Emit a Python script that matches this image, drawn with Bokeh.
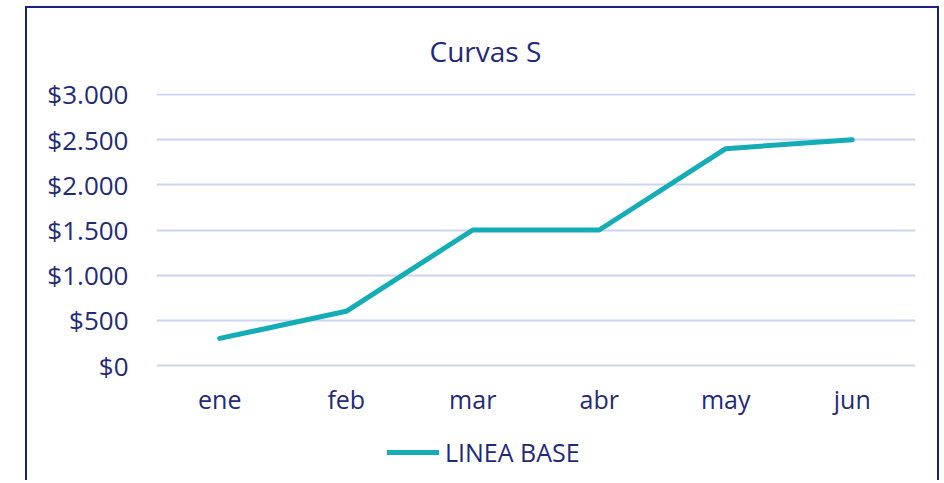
from bokeh.plotting import figure
from bokeh.models import Legend, LegendItem, FixedTicker
from bokeh.embed import file_html
from bokeh.resources import INLINE

# ---- data ----
months = ["ene", "feb", "mar", "abr", "may", "jun"]
linea_base = [300, 600, 1500, 1500, 2400, 2500]
y_ticks = [0, 500, 1000, 1500, 2000, 2500, 3000]
y_tick_labels = ["$0", "$500", "$1.000", "$1.500", "$2.000", "$2.500", "$3.000"]
title_text = "Curvas S"
series_name = "LINEA BASE"

TEXT = "#1f2a78"
TEAL = "#14adb5"
GRID = "#cdd3f2"
FRAME = "#1a237e"
FONT = "Open Sans"

# figure origin on the page is at (27, 8) because of the css margin + border
OX, OY = 27, 8
W, H = 914, 474
FL, FR, FT = 156, 915, 93   # plot-area edges in page pixels (frame runs to the bottom)

# the frame reaches the bottom of the figure; the x axis is pinned at y = 0
p = figure(
    width=W, height=H,
    x_range=months, y_range=(-1295, 3011),
    output_backend="svg", toolbar_location=None,
    min_border_left=FL - OX, min_border_right=OX + W - FR,
    min_border_top=FT - OY, min_border_bottom=0,
)
p.styles = {
    "margin-left": "25px", "margin-top": "6px",
    "border-top": f"2px solid {FRAME}", "border-left": f"2px solid {FRAME}",
    "border-right": f"2px solid {FRAME}",
}
p.outline_line_color = None
p.background_fill_color = "white"
p.border_fill_color = "white"

p.title.text = title_text
p.title.align = "left"
p.title.offset = 273
p.title.vertical_align = "top"
p.title.standoff = 44
p.title.text_font = FONT
p.title.text_font_size = "28px"
p.title.text_font_style = "normal"
p.title.text_color = TEXT

p.xgrid.grid_line_color = None
p.ygrid.grid_line_color = GRID
p.ygrid.grid_line_width = 2

p.yaxis.ticker = FixedTicker(ticks=y_ticks)
p.yaxis.major_label_overrides = {t: l for t, l in zip(y_ticks, y_tick_labels)}
for ax in (p.xaxis[0], p.yaxis[0]):
    ax.axis_line_color = None
    ax.major_tick_line_color = None
    ax.minor_tick_line_color = None
    ax.major_tick_in = 0
    ax.major_tick_out = 0
    ax.major_label_text_color = TEXT
    ax.major_label_text_font = FONT
p.xaxis.fixed_location = 0
p.xaxis.major_label_text_font_size = "25px"
p.yaxis.major_label_text_font_size = "26px"
p.yaxis.major_label_standoff = 28
p.xaxis.major_label_standoff = 16

r = p.line(months, linea_base, line_color=TEAL, line_width=5, line_cap="round", line_join="round")

legend = Legend(
    items=[LegendItem(label=series_name, renderers=[r])],
    location=(231, 13), orientation="horizontal",
    border_line_color=None, background_fill_alpha=0,
    glyph_width=52, glyph_height=20, label_standoff=6, padding=0, margin=0,
    label_text_font=FONT, label_text_font_size="25px", label_text_color=TEXT,
)
p.add_layout(legend, "center")

open("out.html", "w").write(file_html(p, INLINE))
